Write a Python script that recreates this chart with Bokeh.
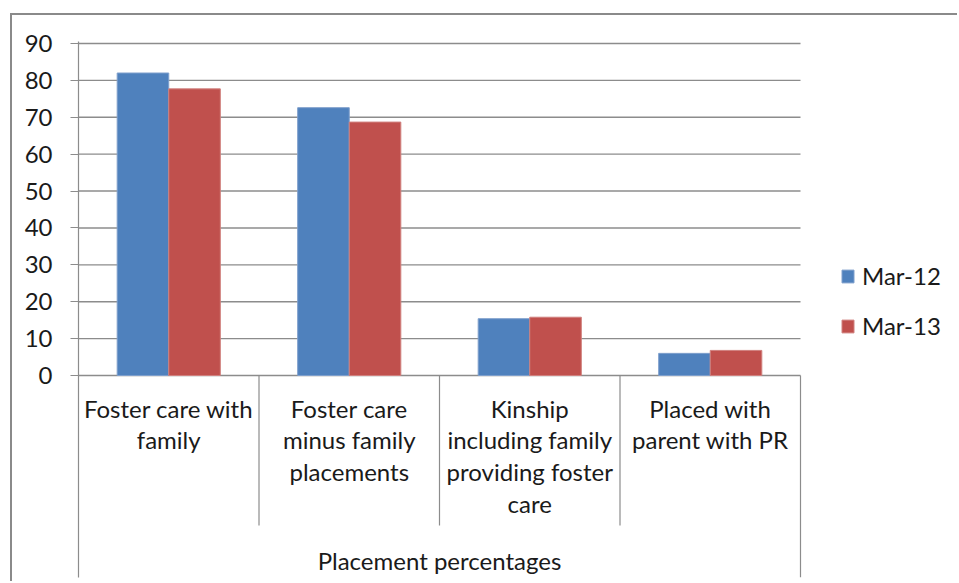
from bokeh.plotting import figure
from bokeh.models import (Range1d, LinearAxis, FixedTicker, Legend, LegendItem,
                          ColumnDataSource)
from bokeh.core.properties import value
from bokeh.embed import file_html
from bokeh.resources import INLINE

# ---- data -------------------------------------------------------------
categories = [
    "Foster care with\nfamily",
    "Foster care\nminus family\nplacements",
    "Kinship\nincluding family\nproviding foster\ncare",
    "Placed with\nparent with PR",
]
mar_12 = [82.0, 72.6, 15.4, 6.0]
mar_13 = [77.7, 68.7, 15.8, 6.8]
series_names = ["Mar-12", "Mar-13"]
y_ticks = [0, 10, 20, 30, 40, 50, 60, 70, 80, 90]
group_title = "Placement percentages"

# ---- styling ----------------------------------------------------------
FONT = "Lato"
TEXT = "#1a1a1a"
GRID = "#8c8c8c"
BLUE, RED = "#4f81bd", "#c0504d"
FS = "24px"

# pixel geometry of the drawing area
W, H = 947, 568
px_per_cat = 180.5
px_per_unit = 332 / 90.0
y_top = 90 + 2 / px_per_unit
y_bottom = -202 / px_per_unit
x_right = 4 + 159 / px_per_cat

p = figure(width=W, height=H, output_backend="svg", toolbar_location=None,
           x_range=Range1d(0, x_right), y_range=Range1d(y_bottom, y_top),
           x_axis_location=None, y_axis_location=None,
           min_border_left=66, min_border_right=0,
           min_border_top=26, min_border_bottom=6,
           outline_line_color=None, background_fill_color="white",
           border_fill_color="white",
           styles={"margin-left": "10px", "margin-top": "13px",
                   "border-left": "2px solid #8a8a8a",
                   "border-top": "2px solid #8a8a8a"})
p.grid.visible = False

# value axis
yaxis = LinearAxis(ticker=FixedTicker(ticks=y_ticks))
yaxis.axis_line_color = GRID
yaxis.axis_line_width = 1.2
yaxis.major_tick_line_color = GRID
yaxis.major_tick_line_width = 1.2
yaxis.major_tick_out = 8
yaxis.major_tick_in = 0
yaxis.minor_tick_line_color = None
yaxis.major_label_text_font = FONT
yaxis.major_label_text_font_size = FS
yaxis.major_label_text_color = TEXT
yaxis.major_label_standoff = 18
p.add_layout(yaxis, "left")

n = len(categories)
# horizontal gridlines (and the zero baseline)
p.segment(x0=[0] * len(y_ticks), x1=[n] * len(y_ticks), y0=y_ticks, y1=y_ticks,
          line_color=GRID, line_width=1.4)

# category separators on the category axis
sep_bottom = -150 / px_per_unit
p.segment(x0=list(range(1, n)), x1=list(range(1, n)),
          y0=[0] * (n - 1), y1=[sep_bottom] * (n - 1),
          line_color=GRID, line_width=1.2)
p.segment(x0=[n], x1=[n], y0=[0], y1=[y_bottom], line_color=GRID, line_width=1.2)

# bars
bw = 1 / 3.5
centers = [i + 0.5 for i in range(n)]
src = ColumnDataSource(dict(
    xb=[c - bw / 2 for c in centers], xr=[c + bw / 2 for c in centers],
    b=mar_12, r=mar_13))
rb = p.vbar(x="xb", top="b", width=bw, bottom=0, source=src,
            fill_color=BLUE, line_color="#7e9fcc", line_width=1)
rr = p.vbar(x="xr", top="r", width=bw, bottom=0, source=src,
            fill_color=RED, line_color="#d0807e", line_width=1)

# category labels
label_top = -18 / px_per_unit
p.text(x=centers, y=[label_top] * n, text=categories,
       text_font=value(FONT), text_font_size=FS, text_color=TEXT,
       text_align="center", text_baseline="top", text_line_height=1.1)

# group title under the categories
p.text(x=[n / 2], y=[-170 / px_per_unit], text=[group_title],
       text_font=value(FONT), text_font_size=FS, text_color=TEXT,
       text_align="center", text_baseline="top")

legend = Legend(items=[LegendItem(label=series_names[0], renderers=[rb]),
                       LegendItem(label=series_names[1], renderers=[rr])],
                location=(762, 237), orientation="vertical",
                glyph_width=15, glyph_height=16, label_standoff=7,
                spacing=21, padding=0, margin=0,
                border_line_color=None, background_fill_alpha=0,
                label_text_font=FONT, label_text_font_size=FS,
                label_text_color=TEXT)
p.add_layout(legend)

open("out.html", "w").write(file_html(p, INLINE))
